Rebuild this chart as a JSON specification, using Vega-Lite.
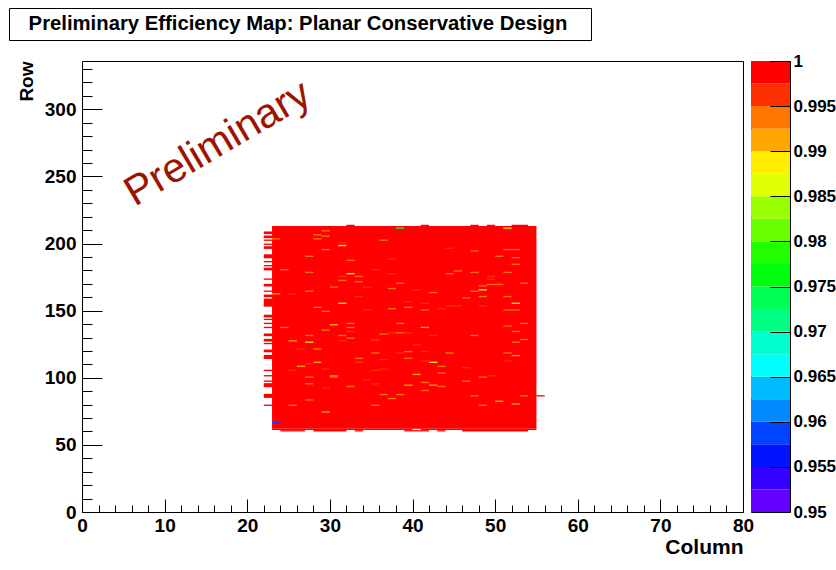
{
  "$schema": "https://vega.github.io/schema/vega-lite/v6.json",
  "background": "white",
  "padding": {"left": 8, "top": 7, "right": 0, "bottom": 4},
  "config": {"font": "Liberation Sans", "view": {"stroke": null}},
  "datasets": {
    "title": [{"text": "Preliminary Efficiency Map: Planar Conservative Design"}],
    "stamp": [{"c": 17.2, "r": 266.5, "label": "Preliminary"}],
    "blank": [{"text": ""}],
    "bar": [
      {"lo": 0.95, "hi": 0.9525, "e": 0.95125},
      {"lo": 0.9525, "hi": 0.955, "e": 0.95375},
      {"lo": 0.955, "hi": 0.9575, "e": 0.95625},
      {"lo": 0.9575, "hi": 0.96, "e": 0.95875},
      {"lo": 0.96, "hi": 0.9625, "e": 0.96125},
      {"lo": 0.9625, "hi": 0.965, "e": 0.96375},
      {"lo": 0.965, "hi": 0.9675, "e": 0.96625},
      {"lo": 0.9675, "hi": 0.97, "e": 0.96875},
      {"lo": 0.97, "hi": 0.9725, "e": 0.97125},
      {"lo": 0.9725, "hi": 0.975, "e": 0.97375},
      {"lo": 0.975, "hi": 0.9775, "e": 0.97625},
      {"lo": 0.9775, "hi": 0.98, "e": 0.97875},
      {"lo": 0.98, "hi": 0.9825, "e": 0.98125},
      {"lo": 0.9825, "hi": 0.985, "e": 0.98375},
      {"lo": 0.985, "hi": 0.9875, "e": 0.98625},
      {"lo": 0.9875, "hi": 0.99, "e": 0.98875},
      {"lo": 0.99, "hi": 0.9925, "e": 0.99125},
      {"lo": 0.9925, "hi": 0.995, "e": 0.99375},
      {"lo": 0.995, "hi": 0.9975, "e": 0.99625},
      {"lo": 0.9975, "hi": 1.0, "e": 0.99875}
    ],
    "cells": [
      {"c0":23,"c1":55,"r0":62,"r1":213,"e":1},
      {"c0":23,"c1":40,"r0":61,"r1":62,"e":1},
      {"c0":41,"c1":55,"r0":61,"r1":62,"e":1},
      {"c0":24,"c1":27,"r0":60,"r1":61,"e":1},
      {"c0":28,"c1":32,"r0":60,"r1":61,"e":1},
      {"c0":33,"c1":34,"r0":60,"r1":61,"e":1},
      {"c0":39,"c1":42,"r0":60,"r1":61,"e":1},
      {"c0":43,"c1":44,"r0":60,"r1":61,"e":1},
      {"c0":46,"c1":54,"r0":60,"r1":61,"e":1},
      {"c0":32,"c1":33,"r0":213,"r1":214,"e":1},
      {"c0":41,"c1":42,"r0":213,"r1":214,"e":1},
      {"c0":47,"c1":48,"r0":213,"r1":214,"e":1},
      {"c0":49,"c1":50,"r0":213,"r1":214,"e":1},
      {"c0":52,"c1":54,"r0":213,"r1":214,"e":1},
      {"c0":55,"c1":56,"r0":86,"r1":87,"e":1},
      {"c0":22,"c1":23,"r0":207,"r1":209,"e":1},
      {"c0":22,"c1":23,"r0":204,"r1":206,"e":1},
      {"c0":22,"c1":23,"r0":202,"r1":203,"e":1},
      {"c0":22,"c1":23,"r0":199,"r1":200,"e":1},
      {"c0":22,"c1":23,"r0":196,"r1":198,"e":1},
      {"c0":22,"c1":23,"r0":189,"r1":192,"e":1},
      {"c0":22,"c1":23,"r0":186,"r1":187,"e":1},
      {"c0":22,"c1":23,"r0":183,"r1":184,"e":1},
      {"c0":22,"c1":23,"r0":180,"r1":182,"e":1},
      {"c0":22,"c1":23,"r0":173,"r1":174,"e":1},
      {"c0":22,"c1":23,"r0":168,"r1":170,"e":1},
      {"c0":22,"c1":23,"r0":164,"r1":165,"e":1},
      {"c0":22,"c1":23,"r0":160,"r1":162,"e":1},
      {"c0":22,"c1":23,"r0":153,"r1":159,"e":1},
      {"c0":22,"c1":23,"r0":145,"r1":147,"e":1},
      {"c0":22,"c1":23,"r0":143,"r1":144,"e":1},
      {"c0":22,"c1":23,"r0":140,"r1":141,"e":1},
      {"c0":22,"c1":23,"r0":137,"r1":138,"e":1},
      {"c0":22,"c1":23,"r0":131,"r1":133,"e":1},
      {"c0":22,"c1":23,"r0":127,"r1":129,"e":1},
      {"c0":22,"c1":23,"r0":125,"r1":126,"e":1},
      {"c0":22,"c1":23,"r0":119,"r1":121,"e":1},
      {"c0":22,"c1":23,"r0":114,"r1":117,"e":1},
      {"c0":22,"c1":23,"r0":105,"r1":106,"e":1},
      {"c0":22,"c1":23,"r0":101,"r1":102,"e":1},
      {"c0":22,"c1":23,"r0":97,"r1":98,"e":1},
      {"c0":22,"c1":23,"r0":93,"r1":96,"e":1},
      {"c0":22,"c1":23,"r0":85,"r1":88,"e":1},
      {"c0":22,"c1":23,"r0":79,"r1":80,"e":1},
      {"c0":29,"c1":30,"r0":209,"r1":210,"e":0.994},
      {"c0":29,"c1":30,"r0":205,"r1":206,"e":0.994},
      {"c0":28,"c1":29,"r0":206,"r1":207,"e":0.994},
      {"c0":28,"c1":29,"r0":203,"r1":204,"e":0.994},
      {"c0":23,"c1":24,"r0":203,"r1":204,"e":0.994},
      {"c0":38,"c1":39,"r0":211,"r1":212,"e":0.979},
      {"c0":51,"c1":52,"r0":211,"r1":212,"e":0.989},
      {"c0":31,"c1":32,"r0":200,"r1":201,"e":0.996},
      {"c0":31,"c1":32,"r0":198,"r1":199,"e":0.989},
      {"c0":36,"c1":37,"r0":202,"r1":203,"e":0.994},
      {"c0":29,"c1":30,"r0":195,"r1":196,"e":0.994},
      {"c0":44,"c1":45,"r0":196,"r1":197,"e":0.996},
      {"c0":47,"c1":48,"r0":194,"r1":195,"e":0.994},
      {"c0":51,"c1":52,"r0":195,"r1":196,"e":0.994},
      {"c0":52,"c1":53,"r0":195,"r1":196,"e":0.994},
      {"c0":27,"c1":28,"r0":190,"r1":191,"e":0.994},
      {"c0":50,"c1":51,"r0":190,"r1":191,"e":0.994},
      {"c0":52,"c1":53,"r0":189,"r1":190,"e":0.994},
      {"c0":32,"c1":33,"r0":187,"r1":188,"e":0.994},
      {"c0":37,"c1":38,"r0":188,"r1":189,"e":0.996},
      {"c0":52,"c1":53,"r0":184,"r1":185,"e":0.994},
      {"c0":24,"c1":25,"r0":180,"r1":181,"e":0.994},
      {"c0":27,"c1":28,"r0":178,"r1":179,"e":0.994},
      {"c0":35,"c1":36,"r0":180,"r1":181,"e":0.996},
      {"c0":32,"c1":33,"r0":177,"r1":178,"e":0.989},
      {"c0":37,"c1":38,"r0":177,"r1":178,"e":0.996},
      {"c0":44,"c1":45,"r0":177,"r1":178,"e":0.994},
      {"c0":45,"c1":46,"r0":179,"r1":180,"e":0.994},
      {"c0":47,"c1":48,"r0":178,"r1":179,"e":0.994},
      {"c0":51,"c1":52,"r0":178,"r1":179,"e":0.994},
      {"c0":31,"c1":32,"r0":175,"r1":176,"e":0.996},
      {"c0":33,"c1":34,"r0":175,"r1":176,"e":0.994},
      {"c0":49,"c1":50,"r0":175,"r1":176,"e":0.996},
      {"c0":49,"c1":50,"r0":173,"r1":174,"e":0.996},
      {"c0":31,"c1":32,"r0":172,"r1":173,"e":0.994},
      {"c0":33,"c1":34,"r0":171,"r1":172,"e":0.994},
      {"c0":38,"c1":39,"r0":170,"r1":171,"e":0.994},
      {"c0":49,"c1":50,"r0":169,"r1":170,"e":0.994},
      {"c0":50,"c1":51,"r0":169,"r1":170,"e":0.994},
      {"c0":53,"c1":54,"r0":170,"r1":171,"e":0.994},
      {"c0":30,"c1":31,"r0":167,"r1":168,"e":0.994},
      {"c0":34,"c1":35,"r0":167,"r1":168,"e":0.996},
      {"c0":37,"c1":38,"r0":166,"r1":167,"e":0.994},
      {"c0":40,"c1":41,"r0":165,"r1":166,"e":0.996},
      {"c0":48,"c1":49,"r0":168,"r1":169,"e":0.994},
      {"c0":48,"c1":49,"r0":165,"r1":166,"e":0.989},
      {"c0":27,"c1":28,"r0":164,"r1":165,"e":0.994},
      {"c0":23,"c1":24,"r0":162,"r1":163,"e":0.991},
      {"c0":25,"c1":26,"r0":162,"r1":163,"e":0.996},
      {"c0":42,"c1":43,"r0":163,"r1":164,"e":0.994},
      {"c0":47,"c1":48,"r0":164,"r1":165,"e":0.994},
      {"c0":33,"c1":34,"r0":160,"r1":161,"e":0.996},
      {"c0":46,"c1":47,"r0":159,"r1":160,"e":0.994},
      {"c0":48,"c1":49,"r0":160,"r1":161,"e":0.994},
      {"c0":51,"c1":52,"r0":160,"r1":161,"e":0.994},
      {"c0":31,"c1":32,"r0":155,"r1":156,"e":0.989},
      {"c0":39,"c1":40,"r0":156,"r1":157,"e":0.996},
      {"c0":41,"c1":42,"r0":155,"r1":156,"e":0.996},
      {"c0":28,"c1":29,"r0":152,"r1":153,"e":0.994},
      {"c0":37,"c1":38,"r0":151,"r1":152,"e":0.994},
      {"c0":39,"c1":40,"r0":152,"r1":153,"e":0.994},
      {"c0":44,"c1":45,"r0":153,"r1":154,"e":0.996},
      {"c0":45,"c1":46,"r0":153,"r1":154,"e":0.996},
      {"c0":48,"c1":49,"r0":153,"r1":154,"e":0.996},
      {"c0":52,"c1":53,"r0":155,"r1":156,"e":0.989},
      {"c0":51,"c1":52,"r0":150,"r1":151,"e":0.994},
      {"c0":52,"c1":53,"r0":150,"r1":151,"e":0.994},
      {"c0":29,"c1":30,"r0":149,"r1":150,"e":0.994},
      {"c0":34,"c1":35,"r0":150,"r1":151,"e":0.996},
      {"c0":41,"c1":42,"r0":150,"r1":151,"e":0.994},
      {"c0":43,"c1":44,"r0":151,"r1":152,"e":0.996},
      {"c0":32,"c1":33,"r0":140,"r1":141,"e":0.994},
      {"c0":30,"c1":31,"r0":139,"r1":140,"e":0.991},
      {"c0":38,"c1":39,"r0":140,"r1":141,"e":0.994},
      {"c0":53,"c1":54,"r0":140,"r1":141,"e":0.994},
      {"c0":51,"c1":52,"r0":138,"r1":139,"e":0.994},
      {"c0":24,"c1":25,"r0":137,"r1":138,"e":0.994},
      {"c0":29,"c1":30,"r0":135,"r1":136,"e":0.994},
      {"c0":32,"c1":33,"r0":137,"r1":138,"e":0.994},
      {"c0":32,"c1":33,"r0":134,"r1":135,"e":0.996},
      {"c0":41,"c1":42,"r0":137,"r1":138,"e":0.991},
      {"c0":36,"c1":37,"r0":132,"r1":133,"e":0.994},
      {"c0":38,"c1":39,"r0":133,"r1":134,"e":0.994},
      {"c0":37,"c1":38,"r0":133,"r1":134,"e":0.996},
      {"c0":39,"c1":40,"r0":133,"r1":134,"e":0.996},
      {"c0":42,"c1":43,"r0":131,"r1":132,"e":0.996},
      {"c0":27,"c1":28,"r0":131,"r1":132,"e":0.994},
      {"c0":31,"c1":32,"r0":131,"r1":132,"e":0.994},
      {"c0":32,"c1":33,"r0":129,"r1":130,"e":0.994},
      {"c0":47,"c1":48,"r0":131,"r1":132,"e":0.994},
      {"c0":52,"c1":53,"r0":134,"r1":135,"e":0.994},
      {"c0":53,"c1":54,"r0":128,"r1":129,"e":0.994},
      {"c0":35,"c1":36,"r0":128,"r1":129,"e":0.996},
      {"c0":25,"c1":26,"r0":127,"r1":128,"e":0.991},
      {"c0":27,"c1":28,"r0":126,"r1":127,"e":0.989},
      {"c0":31,"c1":32,"r0":127,"r1":128,"e":0.996},
      {"c0":35,"c1":36,"r0":127,"r1":128,"e":0.996},
      {"c0":52,"c1":53,"r0":126,"r1":127,"e":0.994},
      {"c0":26,"c1":27,"r0":121,"r1":122,"e":0.996},
      {"c0":28,"c1":29,"r0":121,"r1":122,"e":0.994},
      {"c0":40,"c1":41,"r0":124,"r1":125,"e":0.996},
      {"c0":39,"c1":40,"r0":119,"r1":120,"e":0.994},
      {"c0":41,"c1":42,"r0":119,"r1":120,"e":0.996},
      {"c0":35,"c1":36,"r0":118,"r1":119,"e":0.994},
      {"c0":38,"c1":39,"r0":118,"r1":119,"e":0.996},
      {"c0":44,"c1":45,"r0":118,"r1":119,"e":0.994},
      {"c0":51,"c1":52,"r0":118,"r1":119,"e":0.994},
      {"c0":52,"c1":53,"r0":116,"r1":117,"e":0.991},
      {"c0":33,"c1":34,"r0":114,"r1":115,"e":0.994},
      {"c0":39,"c1":40,"r0":114,"r1":115,"e":0.994},
      {"c0":36,"c1":37,"r0":113,"r1":114,"e":0.996},
      {"c0":51,"c1":52,"r0":112,"r1":113,"e":0.996},
      {"c0":33,"c1":34,"r0":111,"r1":112,"e":0.996},
      {"c0":28,"c1":29,"r0":111,"r1":112,"e":0.991},
      {"c0":41,"c1":42,"r0":112,"r1":113,"e":0.996},
      {"c0":42,"c1":43,"r0":111,"r1":112,"e":0.989},
      {"c0":27,"c1":28,"r0":110,"r1":111,"e":0.996},
      {"c0":26,"c1":27,"r0":108,"r1":109,"e":0.991},
      {"c0":43,"c1":44,"r0":108,"r1":109,"e":0.994},
      {"c0":25,"c1":26,"r0":105,"r1":106,"e":0.996},
      {"c0":29,"c1":30,"r0":106,"r1":107,"e":0.996},
      {"c0":35,"c1":36,"r0":105,"r1":106,"e":0.996},
      {"c0":36,"c1":37,"r0":106,"r1":107,"e":0.996},
      {"c0":46,"c1":47,"r0":107,"r1":108,"e":0.996},
      {"c0":43,"c1":44,"r0":103,"r1":104,"e":0.994},
      {"c0":40,"c1":41,"r0":102,"r1":103,"e":0.991},
      {"c0":27,"c1":28,"r0":100,"r1":101,"e":0.994},
      {"c0":30,"c1":31,"r0":100,"r1":102,"e":0.994},
      {"c0":49,"c1":50,"r0":101,"r1":102,"e":0.996},
      {"c0":48,"c1":49,"r0":100,"r1":101,"e":0.994},
      {"c0":34,"c1":35,"r0":98,"r1":99,"e":0.996},
      {"c0":41,"c1":42,"r0":96,"r1":97,"e":0.994},
      {"c0":46,"c1":47,"r0":97,"r1":98,"e":0.994},
      {"c0":27,"c1":28,"r0":95,"r1":96,"e":0.994},
      {"c0":35,"c1":36,"r0":95,"r1":96,"e":0.996},
      {"c0":39,"c1":40,"r0":94,"r1":95,"e":0.991},
      {"c0":42,"c1":43,"r0":94,"r1":95,"e":0.991},
      {"c0":32,"c1":33,"r0":93,"r1":94,"e":0.994},
      {"c0":43,"c1":44,"r0":93,"r1":94,"e":0.994},
      {"c0":29,"c1":30,"r0":92,"r1":93,"e":0.996},
      {"c0":41,"c1":42,"r0":90,"r1":91,"e":0.994},
      {"c0":36,"c1":37,"r0":87,"r1":88,"e":0.994},
      {"c0":38,"c1":39,"r0":87,"r1":88,"e":0.994},
      {"c0":37,"c1":38,"r0":84,"r1":85,"e":0.994},
      {"c0":47,"c1":48,"r0":86,"r1":87,"e":0.994},
      {"c0":53,"c1":54,"r0":86,"r1":87,"e":0.994},
      {"c0":27,"c1":28,"r0":83,"r1":84,"e":0.994},
      {"c0":50,"c1":51,"r0":82,"r1":83,"e":0.991},
      {"c0":25,"c1":26,"r0":79,"r1":80,"e":0.994},
      {"c0":35,"c1":36,"r0":79,"r1":80,"e":0.994},
      {"c0":48,"c1":49,"r0":79,"r1":80,"e":0.994},
      {"c0":52,"c1":53,"r0":80,"r1":81,"e":0.991},
      {"c0":29,"c1":30,"r0":74,"r1":75,"e":0.991},
      {"c0":23,"c1":24,"r0":66,"r1":67,"e":0.958}
    ]
  },
  "spacing": 10,
  "vconcat": [
    {
      "width": 582,
      "height": 32,
      "view": {"stroke": "black", "strokeWidth": 1, "fill": "white"},
      "data": {"name": "title"},
      "mark": {"type": "text", "font": "Liberation Sans", "fontWeight": "bold", "fontSize": 20.3, "align": "center", "baseline": "middle", "dx": -2, "color": "black"},
      "encoding": {"text": {"field": "text", "type": "nominal"}}
    },
    {
      "hconcat": [
        {
          "width": 65,
          "height": 451,
          "data": {"name": "blank"},
          "mark": {"type": "text", "opacity": 0},
          "encoding": {"text": {"field": "text", "type": "nominal"}}
        },
        {
          "width": 661,
          "height": 451,
          "view": {"stroke": "black", "strokeWidth": 1},
          "resolve": {"axis": {"x": "independent", "y": "independent"}},
          "layer": [
            {
              "data": {"name": "cells"},
              "mark": {"type": "rect"},
              "encoding": {
                "x": {"field": "c0", "type": "quantitative",
                      "scale": {"domain": [0, 80], "nice": false, "zero": false},
                      "axis": {"orient": "bottom", "values": [0,10,20,30,40,50,60,70,80], "tickSize": -13, "tickColor": "black", "tickWidth": 1,
                               "labelFontSize": 19, "labelFontWeight": "bold", "labelColor": "black", "labelPadding": 17,
                               "labelFlush": false, "labelOverlap": false, "domain": false, "grid": false, "zindex": 1,
                               "title": "Column", "titleAnchor": "end", "titleFontSize": 21, "titleFontWeight": "bold",
                               "titleColor": "black", "titlePadding": 1}},
                "x2": {"field": "c1"},
                "y": {"field": "r0", "type": "quantitative",
                      "scale": {"domain": [0, 336], "nice": false, "zero": false},
                      "axis": {"orient": "left", "values": [0,50,100,150,200,250,300], "tickSize": -20, "tickColor": "black", "tickWidth": 1,
                               "labelFontSize": 19, "labelFontWeight": "bold", "labelColor": "black", "labelPadding": 26,
                               "labelFlush": false, "labelOverlap": false, "domain": false, "grid": false, "minExtent": 0, "zindex": 1,
                               "title": "Row", "titleAnchor": "end", "titleFontSize": 19, "titleFontWeight": "bold",
                               "titleColor": "black", "titlePadding": 8}},
                "y2": {"field": "r1"},
                "color": {"field": "e", "type": "quantitative",
                          "scale": {"type": "threshold",
                                    "domain": [0.9525,0.955,0.9575,0.96,0.9625,0.965,0.9675,0.97,0.9725,0.975,0.9775,0.98,0.9825,0.985,0.9875,0.99,0.9925,0.995,0.9975],
                                    "range": ["#6300FF","#3300FF","#0014FF","#0044FF","#008BFF","#00BBFF","#00FFFC","#00FFCC","#00FF85","#00FF55","#00FF0E","#22FF00","#69FF00","#99FF00","#E0FF00","#FFEE00","#FFA700","#FF7700","#FF3000","#FF0000"]},
                          "legend": null}
              }
            },
            {
              "data": {"name": "stamp"},
              "mark": {"type": "text", "font": "Liberation Sans", "fontSize": 41.5, "angle": -30.5, "align": "center", "baseline": "alphabetic", "color": "#9E1300"},
              "encoding": {
                "x": {"field": "c", "type": "quantitative",
                      "axis": {"orient": "bottom", "values": [2,4,6,8,12,14,16,18,22,24,26,28,32,34,36,38,42,44,46,48,52,54,56,58,62,64,66,68,72,74,76,78],
                               "tickSize": -7, "tickColor": "black", "labels": false, "domain": false, "grid": false, "title": null, "zindex": 1}},
                "y": {"field": "r", "type": "quantitative",
                      "axis": {"orient": "left", "values": [10,20,30,40,60,70,80,90,110,120,130,140,160,170,180,190,210,220,230,240,260,270,280,290,310,320,330],
                               "tickSize": -10, "tickColor": "black", "labels": false, "domain": false, "grid": false, "title": null, "minExtent": 0, "zindex": 1}},
                "text": {"field": "label", "type": "nominal"}
              }
            }
          ]
        },
        {
          "width": 39,
          "height": 451,
          "view": {"stroke": "black", "strokeWidth": 1},
          "data": {"name": "bar"},
          "mark": {"type": "rect"},
          "encoding": {
            "y": {"field": "lo", "type": "quantitative",
                  "scale": {"domain": [0.95, 1], "nice": false, "zero": false},
                  "axis": {"orient": "right", "values": [0.95,0.955,0.96,0.965,0.97,0.975,0.98,0.985,0.99,0.995,1], "format": ".3~f",
                           "tickSize": -20, "tickColor": "black", "tickWidth": 1, "labelPadding": 23, "zindex": 1,
                           "labelFontSize": 17, "labelFontWeight": "bold", "labelColor": "black",
                           "labelFlush": false, "labelOverlap": false, "domain": false, "grid": false, "title": null}},
            "y2": {"field": "hi"},
            "color": {"field": "e", "type": "quantitative",
                      "scale": {"type": "threshold",
                                "domain": [0.9525,0.955,0.9575,0.96,0.9625,0.965,0.9675,0.97,0.9725,0.975,0.9775,0.98,0.9825,0.985,0.9875,0.99,0.9925,0.995,0.9975],
                                "range": ["#6300FF","#3300FF","#0014FF","#0044FF","#008BFF","#00BBFF","#00FFFC","#00FFCC","#00FF85","#00FF55","#00FF0E","#22FF00","#69FF00","#99FF00","#E0FF00","#FFEE00","#FFA700","#FF7700","#FF3000","#FF0000"]},
                      "legend": null}
          }
        }
      ],
      "spacing": 8,
      "bounds": "flush",
      "resolve": {"scale": {"color": "independent"}}
    }
  ]
}
